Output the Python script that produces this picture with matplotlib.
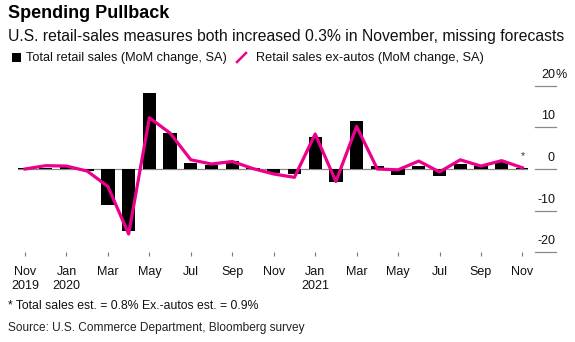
import matplotlib
matplotlib.use("Agg")
import matplotlib.pyplot as plt
from matplotlib.lines import Line2D
from matplotlib.patches import Rectangle
import matplotlib.transforms as mtransforms
import numpy as np

plt.rcParams['font.family'] = ['Liberation Sans', 'DejaVu Sans']

# Monthly data, Nov 2019 - Nov 2021 (% change, month over month, seasonally adjusted)
months = ["Nov 2019", "Dec 2019", "Jan 2020", "Feb 2020", "Mar 2020", "Apr 2020",
          "May 2020", "Jun 2020", "Jul 2020", "Aug 2020", "Sep 2020", "Oct 2020",
          "Nov 2020", "Dec 2020", "Jan 2021", "Feb 2021", "Mar 2021", "Apr 2021",
          "May 2021", "Jun 2021", "Jul 2021", "Aug 2021", "Sep 2021", "Oct 2021",
          "Nov 2021"]
total_sales = [0.2, 0.3, 0.6, -0.4, -8.6, -14.8, 18.2, 8.7, 1.4, 1.0, 2.0, 0.2,
               -1.0, -1.1, 7.6, -3.0, 11.4, 0.7, -1.4, 0.7, -1.7, 1.2, 0.6, 1.8, 0.3]
ex_autos = [0.0, 0.8, 0.7, -0.5, -4.2, -15.6, 12.3, 8.6, 2.2, 1.2, 1.8, 0.1,
            -1.2, -2.0, 8.4, -3.0, 10.2, 0.0, -0.2, 1.9, -0.7, 2.2, 0.7, 2.0, 0.3]
tick_labels = ["Nov\n2019", "Jan\n2020", "Mar", "May", "Jul", "Sep", "Nov",
               "Jan\n2021", "Mar", "May", "Jul", "Sep", "Nov"]
y_ticks = [20, 10, 0, -10, -20]

W, H = 575, 342
PINK = "#ec008c"
GRID = "#8a8a8a"

fig = plt.figure(figsize=(W / 100, H / 100), dpi=100)
fig.patch.set_facecolor("white")

def fx(px):
    return px / W

def fy(py):
    return 1 - py / H

ax_left, ax_right, ax_top, ax_bottom = 18, 528, 80, 252.4
ax = fig.add_axes([fx(ax_left), fy(ax_bottom), fx(ax_right - ax_left), (ax_bottom - ax_top) / H])
ax.set_facecolor("none")

x = np.arange(len(months))
ax.bar(x, total_sales, width=0.64, color="black", zorder=2)
ax.axhline(0, color=GRID, lw=0.9, zorder=1)
ax.plot(x, ex_autos, color=PINK, lw=2.3, solid_joinstyle="round", zorder=3)

ax.set_xlim(-0.34, len(months) - 1 + 0.27)
ax.set_ylim(-20, 21.34)
for s in ax.spines.values():
    s.set_visible(False)
ax.set_yticks([])
ax.set_xticks(x[::2])
ax.set_xticklabels(tick_labels, fontsize=9, linespacing=1.2, color="#111111")
ax.tick_params(axis="x", direction="out", length=2.6, width=0.8, color="#777777", pad=7.5)

# Forecast marker above the latest month
ax.text(x[-1], 3.0, "*", ha="center", va="center", fontsize=7.5, color="#333333")

# Right-hand value scale: short gridline stubs with labels above them
blend = mtransforms.blended_transform_factory(fig.transFigure, ax.transData)
for v in y_ticks:
    fig.add_artist(Line2D([fx(535), fx(555.7)], [v, v], transform=blend, color=GRID, lw=0.9))
    ax.text(fx(555), v + 1.9, str(v), transform=blend, ha="right", va="baseline",
            fontsize=9, color="#111111", clip_on=False)
ax.text(fx(555), 20 + 1.9, "%", transform=blend, ha="left", va="baseline",
        fontsize=9, color="#111111", clip_on=False)

# Title, subtitle
fig.text(fx(8), fy(14), "Spending Pullback", fontsize=13, fontweight="bold",
         ha="left", va="center", color="black")
fig.text(fx(8), fy(36), "U.S. retail-sales measures both increased 0.3% in November, missing forecasts",
         fontsize=11.3, ha="left", va="center", color="#111111")

# Legend
fig.add_artist(Rectangle((fx(12.3), fy(62)), fx(8.5), 8.5 / H, transform=fig.transFigure,
                         facecolor="black", edgecolor="none"))
fig.text(fx(26.5), fy(58), "Total retail sales (MoM change, SA)", fontsize=9.2,
         ha="left", va="center", color="#111111")
fig.add_artist(Line2D([fx(237), fx(246)], [fy(62), fy(53)], transform=fig.transFigure,
                      color=PINK, lw=1.8))
fig.text(fx(256), fy(58), "Retail sales ex-autos (MoM change, SA)", fontsize=9.2,
         ha="left", va="center", color="#111111")

# Footnotes
fig.text(fx(8), fy(306), "* Total sales est. = 0.8% Ex.-autos est. = 0.9%", fontsize=8.8,
         ha="left", va="center", color="#111111")
fig.text(fx(8), fy(327.5), "Source: U.S. Commerce Department, Bloomberg survey", fontsize=8.6,
         ha="left", va="center", color="#222222")

fig.savefig("out.png", dpi=100)
